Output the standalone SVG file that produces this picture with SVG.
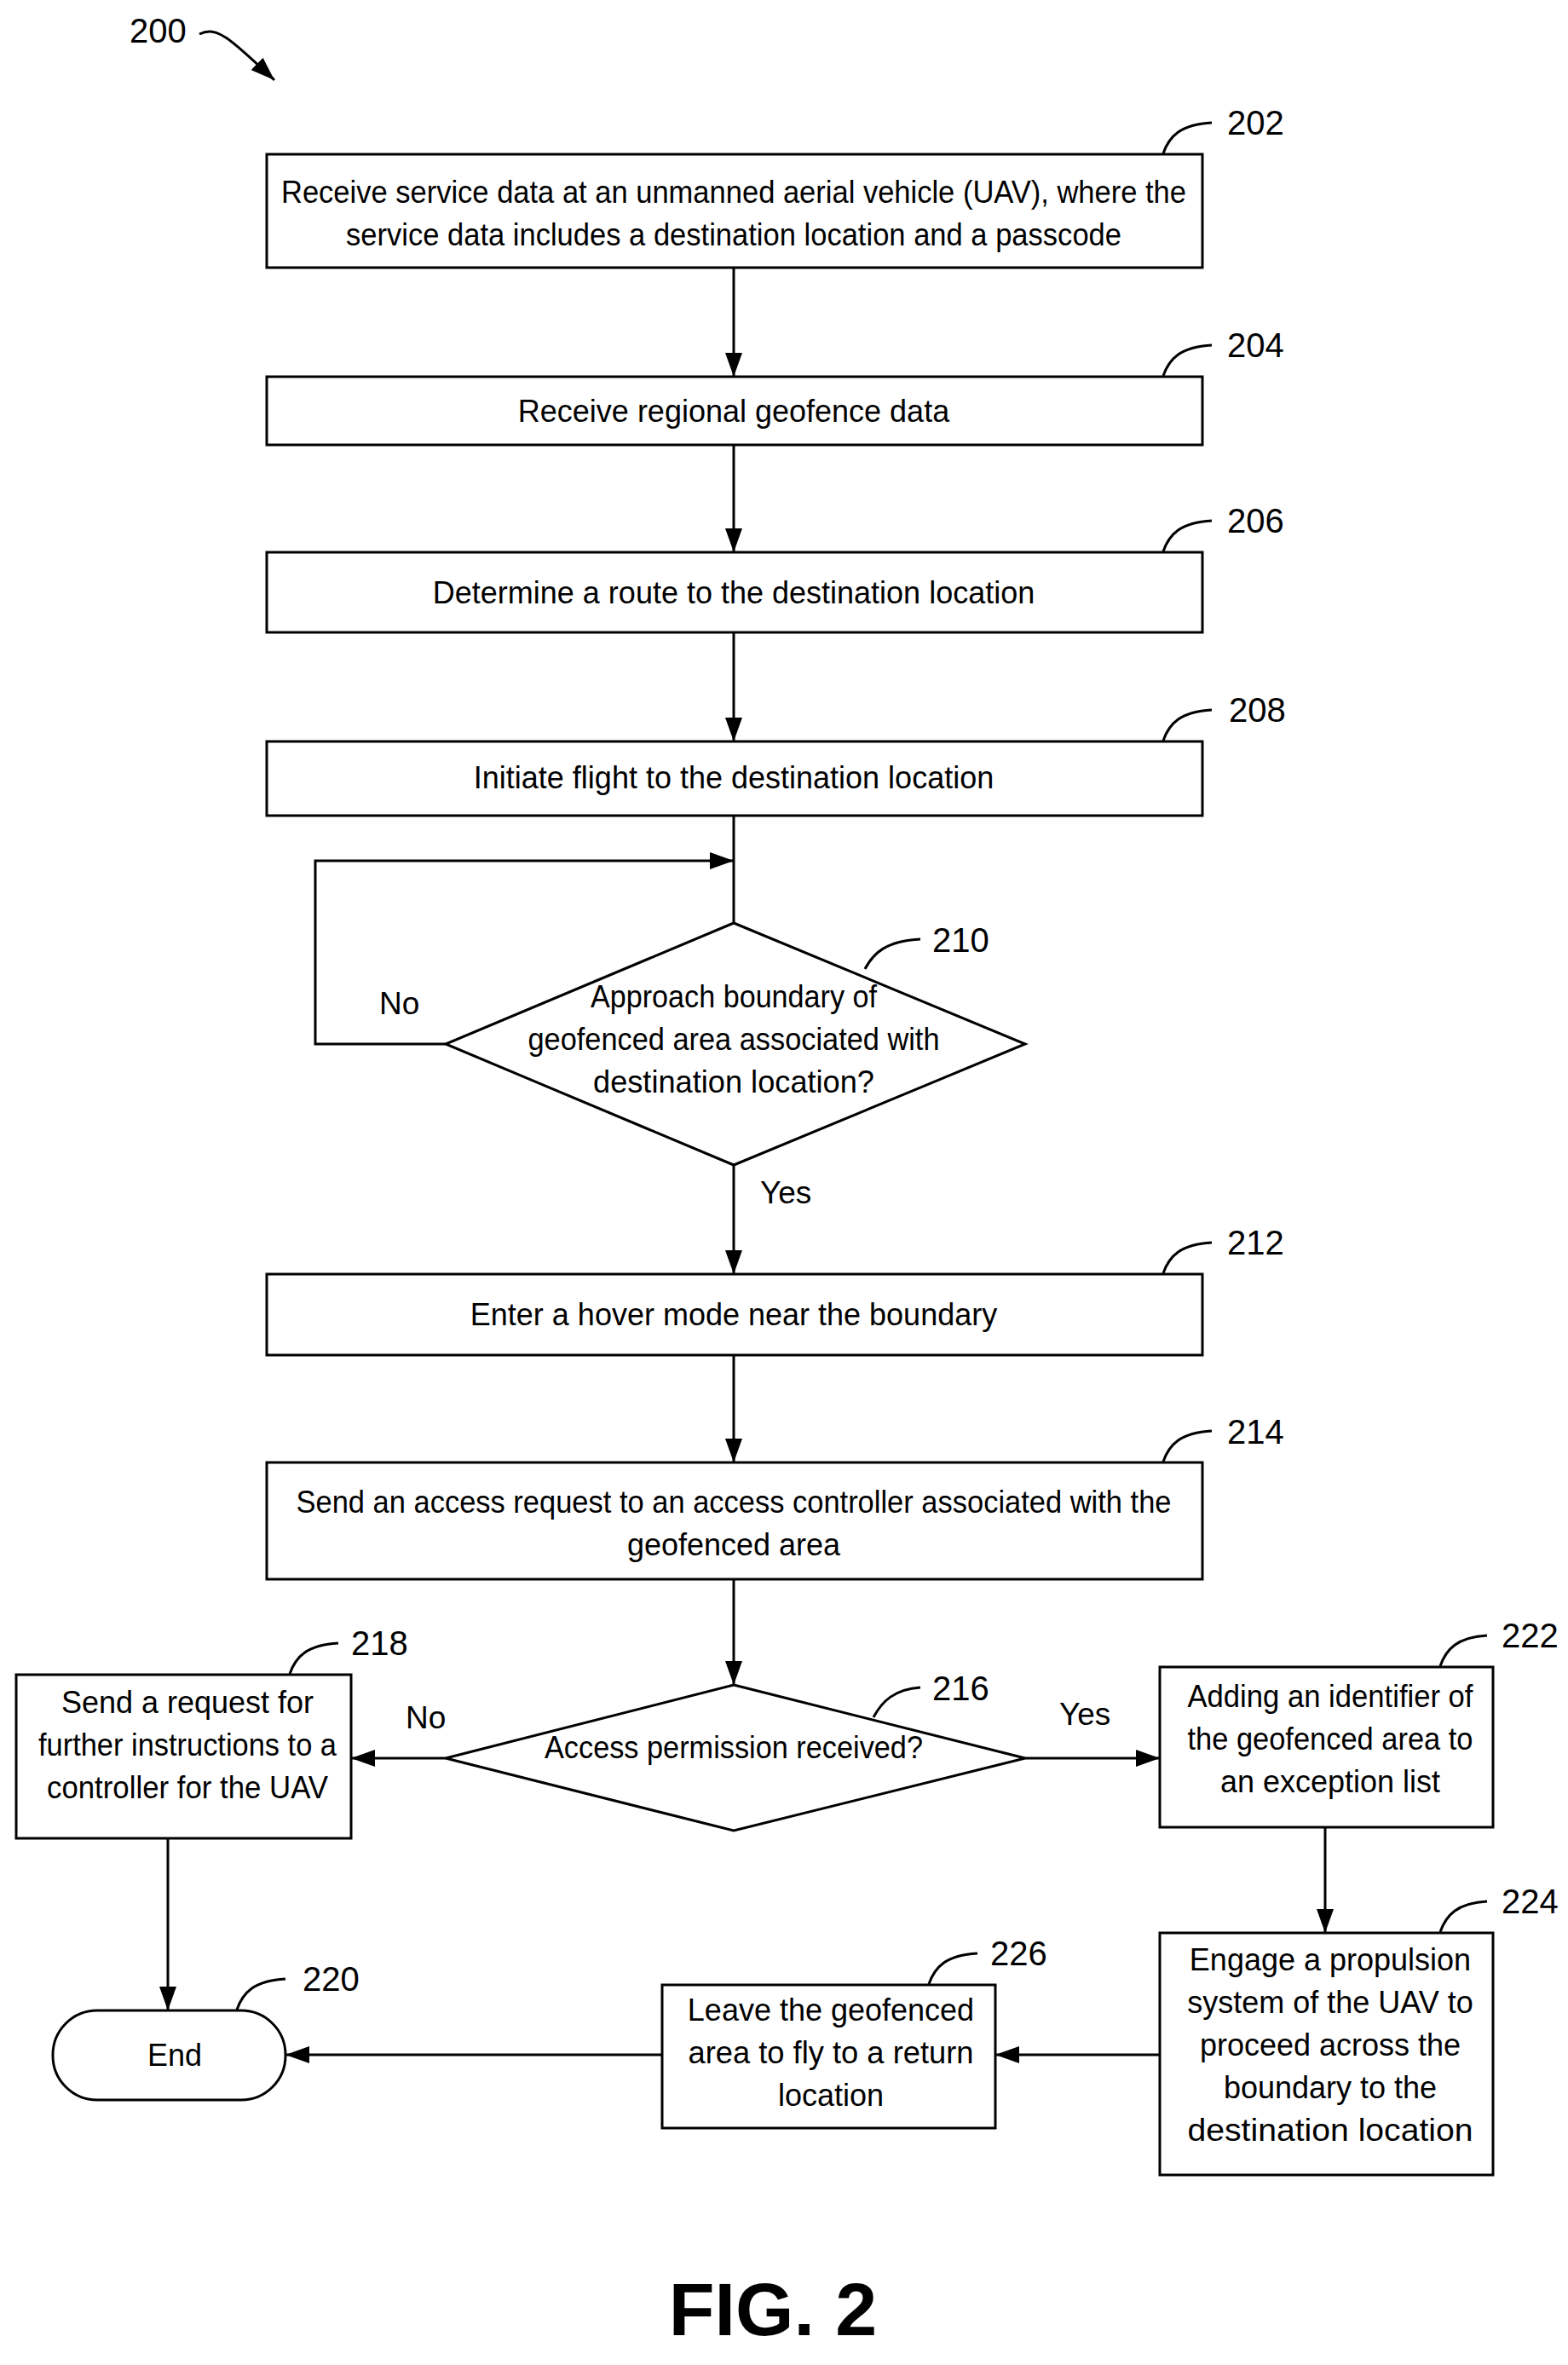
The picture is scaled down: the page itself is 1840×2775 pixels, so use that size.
<svg xmlns="http://www.w3.org/2000/svg" width="1840" height="2775" viewBox="0 0 1840 2775">
<defs>
<marker id="ab" markerWidth="28" markerHeight="20" refX="28" refY="10" orient="auto" markerUnits="userSpaceOnUse" viewBox="0 0 28 20"><path d="M0,0 L28,10 L0,20 z" fill="#000"/></marker>
<style>
.b{fill:#fff;stroke:#000;stroke-width:3}
.t{font-family:"Liberation Sans",Arial,sans-serif;font-size:36px;text-anchor:middle;fill:#000}
.r{font-family:"Liberation Sans",Arial,sans-serif;font-size:40px;fill:#000}
.c{fill:none;stroke:#000;stroke-width:3}
.l{fill:none;stroke:#000;stroke-width:3}
</style>
</defs>
<rect width="1840" height="2775" fill="#fff"/>
<g id="ref200"><text class="r" x="152" y="50">200</text><path class="l" d="M234,40 C255,30 270,45 322,94" marker-end="url(#ab)"/></g>
<g id="connectors">
<path class="c" d="M861,314 V442" marker-end="url(#ab)"/>
<path class="c" d="M861,522 V648" marker-end="url(#ab)"/>
<path class="c" d="M861,742 V870" marker-end="url(#ab)"/>
<path class="c" d="M861,957 V1083"/>
<path class="c" d="M523,1225 H370 V1010 H861" marker-end="url(#ab)"/>
<path class="c" d="M861,1367 V1495" marker-end="url(#ab)"/>
<path class="c" d="M861,1590 V1716" marker-end="url(#ab)"/>
<path class="c" d="M861,1853 V1977" marker-end="url(#ab)"/>
<path class="c" d="M523,2063 H412" marker-end="url(#ab)"/>
<path class="c" d="M1203,2063 H1361" marker-end="url(#ab)"/>
<path class="c" d="M197,2157 V2359" marker-end="url(#ab)"/>
<path class="c" d="M1555,2144 V2268" marker-end="url(#ab)"/>
<path class="c" d="M1361,2411 H1168" marker-end="url(#ab)"/>
<path class="c" d="M777,2411 H335" marker-end="url(#ab)"/>
<text class="r" x="445" y="1190" style="font-size:37px">No</text>
<text class="r" x="892" y="1412" style="font-size:37px">Yes</text>
<text class="r" x="476" y="2028" style="font-size:37px">No</text>
<text class="r" x="1243" y="2024" style="font-size:37px">Yes</text>
</g>
<g id="n202"><rect class="b" x="313" y="181" width="1098" height="133"/><text class="t" x="861" y="238" textLength="1062" lengthAdjust="spacingAndGlyphs">Receive service data at an unmanned aerial vehicle (UAV), where the</text><text class="t" x="861" y="288" textLength="910" lengthAdjust="spacingAndGlyphs">service data includes a destination location and a passcode</text><path class="l" d="M1365,180 C1372,160 1385,146 1422,144"/><text class="r" x="1440" y="158">202</text></g>
<g id="n204"><rect class="b" x="313" y="442" width="1098" height="80"/><text class="t" x="861" y="495">Receive regional geofence data</text><path class="l" d="M1365,441 C1372,421 1385,407 1422,405"/><text class="r" x="1440" y="419">204</text></g>
<g id="n206"><rect class="b" x="313" y="648" width="1098" height="94"/><text class="t" x="861" y="708">Determine a route to the destination location</text><path class="l" d="M1365,647 C1372,627 1385,613 1422,611"/><text class="r" x="1440" y="625">206</text></g>
<g id="n208"><rect class="b" x="313" y="870" width="1098" height="87"/><text class="t" x="861" y="925">Initiate flight to the destination location</text><path class="l" d="M1365,869 C1372,849 1385,835 1422,833"/><text class="r" x="1442" y="847">208</text></g>
<g id="n210"><polygon class="b" points="861,1083 1203,1225 861,1367 523,1225"/><text class="t" x="861" y="1182" textLength="336" lengthAdjust="spacingAndGlyphs">Approach boundary of</text><text class="t" x="861" y="1232" textLength="483" lengthAdjust="spacingAndGlyphs">geofenced area associated with</text><text class="t" x="861" y="1282" textLength="330" lengthAdjust="spacingAndGlyphs">destination location?</text><path class="l" d="M1015,1137 C1025,1118 1040,1104 1080,1102"/><text class="r" x="1094" y="1117">210</text></g>
<g id="n212"><rect class="b" x="313" y="1495" width="1098" height="95"/><text class="t" x="861" y="1555">Enter a hover mode near the boundary</text><path class="l" d="M1365,1494 C1372,1474 1385,1460 1422,1458"/><text class="r" x="1440" y="1472">212</text></g>
<g id="n214"><rect class="b" x="313" y="1716" width="1098" height="137"/><text class="t" x="861" y="1775" textLength="1027" lengthAdjust="spacingAndGlyphs">Send an access request to an access controller associated with the</text><text class="t" x="861" y="1825">geofenced area</text><path class="l" d="M1365,1715 C1372,1695 1385,1681 1422,1679"/><text class="r" x="1440" y="1694">214</text></g>
<g id="n216"><polygon class="b" points="861,1977 1203,2063 861,2148 523,2063"/><text class="t" x="861" y="2063" textLength="444" lengthAdjust="spacingAndGlyphs">Access permission received?</text><path class="l" d="M1025,2015 C1035,1996 1050,1982 1080,1980"/><text class="r" x="1094" y="1995">216</text></g>
<g id="n218"><rect class="b" x="19" y="1965" width="393" height="192"/><text class="t" x="220" y="2010">Send a request for</text><text class="t" x="220" y="2060" textLength="350" lengthAdjust="spacingAndGlyphs">further instructions to a</text><text class="t" x="220" y="2110" textLength="330" lengthAdjust="spacingAndGlyphs">controller for the UAV</text><path class="l" d="M340,1964 C347,1944 360,1930 397,1928"/><text class="r" x="412" y="1942">218</text></g>
<g id="n220"><rect class="b" x="62" y="2359" width="273" height="105" rx="52"/><text class="t" x="205" y="2424">End</text><path class="l" d="M278,2358 C285,2338 298,2324 335,2322"/><text class="r" x="355" y="2336">220</text></g>
<g id="n222"><rect class="b" x="1361" y="1956" width="391" height="188"/><text class="t" x="1561" y="2003" textLength="335" lengthAdjust="spacingAndGlyphs">Adding an identifier of</text><text class="t" x="1561" y="2053" textLength="335" lengthAdjust="spacingAndGlyphs">the geofenced area to</text><text class="t" x="1561" y="2103">an exception list</text><path class="l" d="M1690,1955 C1697,1935 1710,1921 1745,1919"/><text class="r" x="1762" y="1933">222</text></g>
<g id="n224"><rect class="b" x="1361" y="2268" width="391" height="284" /><text class="t" x="1561" y="2312">Engage a propulsion</text><text class="t" x="1561" y="2362">system of the UAV to</text><text class="t" x="1561" y="2412">proceed across the</text><text class="t" x="1561" y="2462">boundary to the</text><text class="t" x="1561" y="2512" textLength="335" lengthAdjust="spacingAndGlyphs">destination location</text><path class="l" d="M1690,2267 C1697,2247 1710,2233 1745,2231"/><text class="r" x="1762" y="2245">224</text></g>
<g id="n226"><rect class="b" x="777" y="2329" width="391" height="168"/><text class="t" x="975" y="2371">Leave the geofenced</text><text class="t" x="975" y="2421" textLength="335" lengthAdjust="spacingAndGlyphs">area to fly to a return</text><text class="t" x="975" y="2471">location</text><path class="l" d="M1090,2328 C1097,2308 1110,2294 1147,2292"/><text class="r" x="1162" y="2306">226</text></g>
<text x="907" y="2740" style="font-family:'Liberation Sans',Arial,sans-serif;font-weight:bold;font-size:88px;text-anchor:middle">FIG. 2</text>
</svg>
